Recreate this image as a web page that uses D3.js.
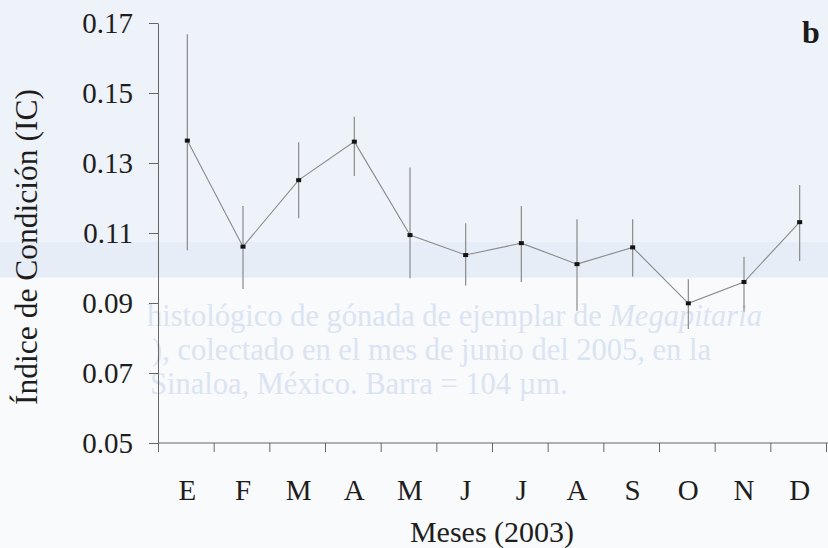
<!DOCTYPE html>
<html>
<head>
<meta charset="utf-8">
<script src="https://cdn.jsdelivr.net/npm/d3@7"></script>
<style>
  body { margin: 0; background: #f9fafc; }
  svg { display: block; }
</style>
</head>
<body>
<div id="chart"></div>
<script>
// months (Spanish initials), mean condition index and error bar ends
var months = ["E", "F", "M", "A", "M", "J", "J", "A", "S", "O", "N", "D"];
var ic = [0.1364, 0.1061, 0.1251, 0.1361, 0.1094, 0.1037, 0.1071, 0.1011, 0.1059, 0.0899, 0.0960, 0.1131];
var icUpper = [0.1668, 0.1177, 0.1359, 0.1432, 0.1287, 0.1128, 0.1177, 0.1139, 0.1139, 0.0968, 0.1032, 0.1237];
var icLower = [0.1051, 0.0940, 0.1142, 0.1263, 0.0971, 0.0950, 0.0960, 0.0878, 0.0976, 0.0826, 0.0876, 0.1020];
var yTicks = [0.05, 0.07, 0.09, 0.11, 0.13, 0.15, 0.17];

// caption of the next figure showing through the scanned page
// (only the part inside the plot, so it does not sit on the axis labels)
var ghostLines = [
  ["histológico de gónada de ejemplar de ", "Megapitaria"],
  ["), colectado en el mes de junio del 2005, en la", ""],
  ["Sinaloa, México. Barra = 104 µm.", ""]
];

var W = 828, H = 548;
var serif = "'Liberation Serif', 'Times New Roman', serif";

var svg = d3.select("#chart").append("svg")
  .attr("width", W)
  .attr("height", H);

// scanned paper look
svg.append("rect").attr("width", W).attr("height", H).attr("fill", "#f9fafc");
svg.append("rect").attr("width", W).attr("height", 278).attr("fill", "#eef2f9");
svg.append("rect").attr("y", 242).attr("width", W).attr("height", 35).attr("fill", "#e7edf7");

var ghost = svg.append("g")
  .attr("fill", "#dbe4f2")
  .style("font-family", serif)
  .style("font-size", "30.5px");
ghost.selectAll("text")
  .data(ghostLines)
  .join("text")
    .attr("x", (d, i) => [147, 152, 150][i])
    .attr("y", (d, i) => 326 + i * 34)
    .each(function (d) {
      var t = d3.select(this);
      t.append("tspan").text(d[0]);
      if (d[1]) t.append("tspan").style("font-style", "italic").text(d[1]);
    });

// scales
var x = d3.scaleBand().domain(d3.range(months.length)).range([158, 826]);
var xEdge = d3.scaleLinear().domain([0, months.length]).range([158, 826]);
var y = d3.scaleLinear().domain([0.05, 0.17]).range([443, 23]);
var cx = i => x(i) + x.bandwidth() / 2 + 1.5;

// y axis
var yAxis = svg.append("g")
  .attr("transform", "translate(158,0)")
  .call(d3.axisLeft(y).tickValues(yTicks).tickFormat(d3.format(".2f"))
    .tickSize(9).tickSizeOuter(0).tickPadding(16));

// x axis: ticks on the month boundaries, labels in the middle
var xAxis = svg.append("g")
  .attr("transform", "translate(0,443)")
  .call(d3.axisBottom(xEdge).ticks(months.length).tickFormat("")
    .tickSize(9).tickSizeOuter(0));
xAxis.select(".domain").attr("d", "M158,0H828");

var xLabels = svg.append("g")
  .attr("transform", "translate(1.5,443)")
  .call(d3.axisBottom(x).tickFormat(i => months[i]).tickSize(0).tickPadding(36));
xLabels.select(".domain").remove();

svg.selectAll(".tick line, .domain").attr("stroke", "#666").attr("stroke-width", 1);
svg.selectAll(".tick text")
  .attr("fill", "#1e1e1e")
  .style("font-family", serif)
  .style("font-size", "29px");

// error bars
svg.append("g").selectAll("line")
  .data(ic)
  .join("line")
    .attr("x1", (d, i) => cx(i))
    .attr("x2", (d, i) => cx(i))
    .attr("y1", (d, i) => y(icUpper[i]))
    .attr("y2", (d, i) => y(icLower[i]))
    .attr("stroke", "#8a8a8a")
    .attr("stroke-width", 1.2);

// mean line
svg.append("path")
  .datum(ic)
  .attr("d", d3.line().x((d, i) => cx(i)).y(d => y(d)))
  .attr("fill", "none")
  .attr("stroke", "#8a8a8a")
  .attr("stroke-width", 1.1);

// small square markers
svg.append("g").selectAll("rect")
  .data(ic)
  .join("rect")
    .attr("x", (d, i) => cx(i) - 2.5)
    .attr("y", d => y(d) - 2)
    .attr("width", 5)
    .attr("height", 4)
    .attr("fill", "#141414");

// titles
svg.append("text")
  .attr("transform", "translate(37,247) rotate(-90)")
  .attr("text-anchor", "middle")
  .attr("fill", "#1e1e1e")
  .style("font-family", serif)
  .style("font-size", "31.5px")
  .text("Índice de Condición (IC)");

svg.append("text")
  .attr("x", 492)
  .attr("y", 542)
  .attr("text-anchor", "middle")
  .attr("fill", "#1e1e1e")
  .style("font-family", serif)
  .style("font-size", "30px")
  .text("Meses (2003)");

svg.append("text")
  .attr("x", 802)
  .attr("y", 43)
  .attr("fill", "#1a1a1a")
  .style("font-family", serif)
  .style("font-weight", "bold")
  .style("font-size", "32px")
  .text("b");
</script>
</body>
</html>
